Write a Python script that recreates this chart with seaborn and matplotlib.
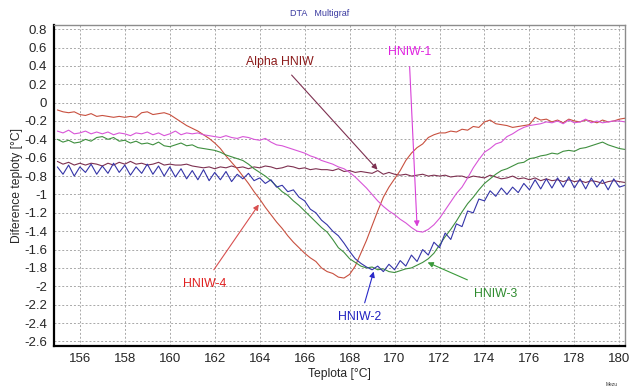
import numpy as np
import pandas as pd
import matplotlib
matplotlib.use("Agg")
import matplotlib.pyplot as plt
import seaborn as sns

# ---------------- data ----------------
temperature = np.round(np.arange(155.0, 180.26, 0.25), 2)

hniw4 = [-0.08, -0.10, -0.11, -0.10,
         -0.13, -0.14, -0.12, -0.15,
         -0.14, -0.15, -0.16, -0.15,
         -0.16, -0.15, -0.16, -0.11,
         -0.10, -0.13, -0.12, -0.11,
         -0.13, -0.17, -0.21, -0.25,
         -0.28, -0.31, -0.35, -0.39,
         -0.44, -0.50, -0.58, -0.65,
         -0.72, -0.80, -0.88, -0.97,
         -1.05, -1.14, -1.22, -1.30,
         -1.37, -1.45, -1.52, -1.58,
         -1.64, -1.69, -1.73, -1.80,
         -1.84, -1.86, -1.90, -1.91,
         -1.87, -1.78, -1.64, -1.50,
         -1.34, -1.18, -1.03, -0.92,
         -0.83, -0.74, -0.63, -0.55,
         -0.49, -0.45, -0.38, -0.35,
         -0.33, -0.33, -0.31, -0.32,
         -0.29, -0.30, -0.26, -0.27,
         -0.21, -0.19, -0.23, -0.24,
         -0.25, -0.27, -0.26, -0.25,
         -0.24, -0.16, -0.19, -0.18,
         -0.21, -0.19, -0.22, -0.18,
         -0.20, -0.21, -0.19, -0.20,
         -0.22, -0.19, -0.21, -0.20,
         -0.18, -0.17]

hniw1 = [-0.31, -0.33, -0.30, -0.34,
         -0.33, -0.31, -0.34, -0.32,
         -0.34, -0.32, -0.35, -0.33,
         -0.34, -0.36, -0.33, -0.34,
         -0.32, -0.35, -0.33, -0.36,
         -0.34, -0.31, -0.35, -0.33,
         -0.34, -0.33, -0.35, -0.36,
         -0.37, -0.38, -0.36, -0.38,
         -0.39, -0.37, -0.38, -0.40,
         -0.41, -0.39, -0.43, -0.46,
         -0.47, -0.49, -0.51, -0.53,
         -0.55, -0.58, -0.60, -0.63,
         -0.65, -0.67, -0.70, -0.72,
         -0.76, -0.81, -0.87, -0.93,
         -1.00, -1.07, -1.13, -1.18,
         -1.22, -1.27, -1.31, -1.36,
         -1.40, -1.41, -1.38, -1.33,
         -1.26, -1.17, -1.08, -0.99,
         -0.92, -0.82, -0.71, -0.62,
         -0.54, -0.50, -0.45, -0.43,
         -0.37, -0.34, -0.30, -0.27,
         -0.25, -0.24, -0.23, -0.21,
         -0.22, -0.20, -0.23, -0.19,
         -0.22, -0.21, -0.18, -0.22,
         -0.20, -0.22, -0.21, -0.20,
         -0.20, -0.21]

hniw3 = [-0.40, -0.43, -0.41, -0.44,
         -0.43, -0.40, -0.42, -0.38,
         -0.37, -0.40, -0.38, -0.42,
         -0.41, -0.44, -0.42, -0.45,
         -0.44, -0.46, -0.43, -0.47,
         -0.48, -0.46, -0.44, -0.47,
         -0.46, -0.49, -0.50, -0.51,
         -0.52, -0.54, -0.57, -0.59,
         -0.61, -0.63, -0.67, -0.72,
         -0.76, -0.80, -0.85, -0.91,
         -0.97, -1.01, -1.07, -1.12,
         -1.18, -1.24, -1.30, -1.36,
         -1.41, -1.49, -1.58, -1.63,
         -1.70, -1.74, -1.78, -1.80,
         -1.79, -1.82, -1.81, -1.84,
         -1.85, -1.83, -1.81, -1.80,
         -1.77, -1.74, -1.70, -1.64,
         -1.55, -1.46, -1.38, -1.29,
         -1.19, -1.10, -1.03, -0.95,
         -0.88, -0.83, -0.78, -0.74,
         -0.72, -0.69, -0.66, -0.65,
         -0.61, -0.60, -0.58, -0.57,
         -0.55, -0.56, -0.53, -0.52,
         -0.53, -0.50, -0.49, -0.47,
         -0.45, -0.43, -0.46, -0.48,
         -0.50, -0.51]

hniw2 = [-0.70, -0.78, -0.68, -0.80,
         -0.70, -0.76, -0.67, -0.78,
         -0.69, -0.77, -0.66, -0.76,
         -0.68, -0.79, -0.70, -0.77,
         -0.67, -0.78, -0.69, -0.80,
         -0.70, -0.81, -0.72, -0.83,
         -0.74, -0.84, -0.73, -0.85,
         -0.76, -0.84, -0.75, -0.86,
         -0.78, -0.83, -0.77, -0.85,
         -0.82, -0.88, -0.84, -0.92,
         -0.90, -0.97, -0.95, -1.03,
         -1.07, -1.16, -1.20, -1.28,
         -1.33, -1.40, -1.45, -1.53,
         -1.62, -1.70, -1.75, -1.79,
         -1.82, -1.78, -1.84, -1.76,
         -1.82, -1.72, -1.78, -1.66,
         -1.73, -1.60, -1.66, -1.52,
         -1.58, -1.42, -1.49, -1.32,
         -1.35, -1.18, -1.20, -1.05,
         -1.07, -0.96, -1.02, -0.93,
         -1.00, -0.92, -0.98, -0.88,
         -0.95, -0.84, -0.94, -0.83,
         -0.93, -0.82, -0.92, -0.81,
         -0.93, -0.83, -0.94, -0.82,
         -0.92, -0.84, -0.95, -0.83,
         -0.92, -0.90]

alpha_hniw = [-0.64, -0.67, -0.65, -0.68,
              -0.66, -0.68, -0.66, -0.67,
              -0.69, -0.66, -0.68, -0.65,
              -0.67, -0.64, -0.67, -0.66,
              -0.68, -0.67, -0.65, -0.68,
              -0.67, -0.68, -0.68, -0.67,
              -0.69, -0.70, -0.71, -0.70,
              -0.72, -0.70, -0.71, -0.69,
              -0.71, -0.70, -0.72, -0.70,
              -0.71, -0.69, -0.70, -0.72,
              -0.71, -0.69, -0.70, -0.72,
              -0.71, -0.73, -0.72, -0.73,
              -0.73, -0.74, -0.72, -0.75,
              -0.74, -0.76, -0.75, -0.76,
              -0.77, -0.74, -0.78, -0.76,
              -0.78, -0.79, -0.78, -0.80,
              -0.79, -0.78, -0.80, -0.79,
              -0.80, -0.79, -0.81, -0.80,
              -0.80, -0.82, -0.80, -0.81,
              -0.82, -0.79, -0.81, -0.83,
              -0.82, -0.80, -0.83, -0.82,
              -0.84, -0.82, -0.85, -0.83,
              -0.85, -0.84, -0.86, -0.84,
              -0.86, -0.85, -0.87, -0.85,
              -0.86, -0.88, -0.86, -0.85,
              -0.86, -0.87]

series_names = ["Alpha HNIW", "HNIW-4", "HNIW-1", "HNIW-3", "HNIW-2"]
series_values = [alpha_hniw, hniw4, hniw1, hniw3, hniw2]
line_colors = ["#7d3050", "#c8503f", "#d855d8", "#3f8f3f", "#3434a8"]

x_ticks = list(range(156, 181, 2))
y_ticks = [round(v, 1) for v in np.arange(-2.6, 0.81, 0.2)]

# ---------------- frame ----------------
frames = []
for name, vals in zip(series_names, series_values):
    frames.append(pd.DataFrame({"Teplota": temperature, "dT": vals, "vzorek": name}))
df = pd.concat(frames, ignore_index=True)

sns.set_theme(style="white")
plt.rcParams["font.family"] = ["Liberation Sans", "DejaVu Sans"]
plt.rcParams["axes.unicode_minus"] = False

fig = plt.figure(figsize=(6.29, 3.88), dpi=100)
ax = fig.add_axes([54 / 629, 1 - 346 / 388, (625 - 54) / 629, (346 - 25) / 388])

sns.lineplot(data=df, x="Teplota", y="dT", hue="vzorek", hue_order=series_names,
             palette=dict(zip(series_names, line_colors)), estimator=None,
             sort=False, linewidth=0.8, legend=False, ax=ax)

ax.set_xlim(154.85, 180.25)
ax.set_ylim(-2.65, 0.845)
ax.set_xticks(x_ticks)
ax.set_yticks(y_ticks)
ax.set_xticklabels([f"{t:g}" for t in x_ticks])
ax.set_yticklabels([f"{t:g}" for t in y_ticks])
ax.tick_params(axis="y", length=3, width=0.8, color="black", pad=2, labelsize=9.5)
ax.tick_params(axis="x", length=0, pad=5, labelsize=9.5)
ax.grid(True, color="#a8a8a8", linestyle=(0, (2, 2)), linewidth=0.7)
ax.set_axisbelow(True)

for side in ["left", "bottom"]:
    ax.spines[side].set_color("black")
    ax.spines[side].set_linewidth(1.6)
for side in ["top", "right"]:
    ax.spines[side].set_color("#8c8c8c")
    ax.spines[side].set_linewidth(1.0)

ax.set_xlabel("Teplota [°C]", fontsize=8.7, labelpad=2)
ax.set_ylabel("Diference teploty [°C]", fontsize=8.7, labelpad=1)

fig.text(320 / 629, 1 - 13 / 388, "DTA   Multigraf", fontsize=6.5, color="#3a3aa0",
         ha="center", va="center")
fig.text(612 / 629, 1 - 384 / 388, "Mezu", fontsize=3.5, color="#333333",
         ha="center", va="center")

# ---------------- annotations ----------------
labels = [
    ("Alpha HNIW", (164.89, 0.44), (165.42, 0.30), (169.24, -0.73), "#8b1a1a", "#7d3050"),
    ("HNIW-1", (170.67, 0.55), (170.67, 0.39), (171.0, -1.35), "#e020e0", "#d840d8"),
    ("HNIW-4", (161.56, -1.97), (161.96, -1.82), (163.96, -1.11), "#e02020", "#d85050"),
    ("HNIW-2", (168.44, -2.33), (168.67, -2.18), (169.07, -1.84), "#2020c0", "#2828c8"),
    ("HNIW-3", (174.49, -2.08), (173.24, -1.93), (171.47, -1.74), "#2e8b2e", "#3a9a3a"),
]
for text, tpos, start, tip, tcol, acol in labels:
    ax.text(tpos[0], tpos[1], text, color=tcol, fontsize=8.8, ha="center", va="center")
    ax.annotate("", xy=tip, xytext=start,
                arrowprops=dict(arrowstyle="-|>", color=acol, lw=0.8,
                                mutation_scale=8, shrinkA=0, shrinkB=0))

fig.savefig("out.png", dpi=100, facecolor="white")
